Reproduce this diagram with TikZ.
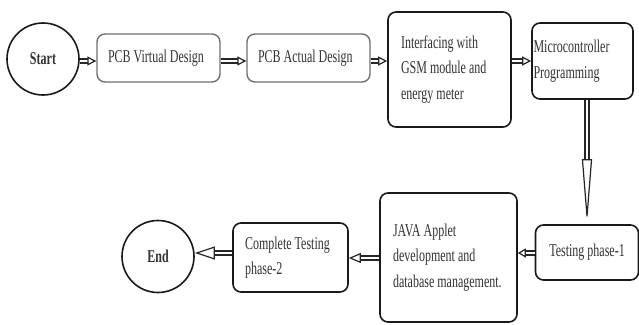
\documentclass[tikz,border=0pt]{standalone}
\usepackage{fontspec}
\setmainfont{Liberation Serif}[FakeStretch=0.667]
\usetikzlibrary{arrows.meta}
\definecolor{txt}{HTML}{333333}
\definecolor{gborder}{HTML}{707070}
\newcommand{\fs}{\fontsize{18}{25.5}\selectfont}
\newcommand{\tl}[1]{\mbox{#1}}
\tikzset{
  box/.style={draw=black!90, line width=1.6pt, rounded corners=8pt, fill=white,
    align=flush left, font=\fs, text=txt, inner ysep=0pt},
  graybox/.style={box, draw=gborder, line width=1.4pt},
  term/.style={circle, draw=black!90, line width=1.6pt, font=\fs\bfseries, text=txt,
    inner sep=0pt, minimum size=72pt},
  flow/.style 2 args={draw=black!85, line width=1.3pt, double=white, double distance=2.6pt,
    -{Triangle[open, length=#1, width=#2, line width=1.2pt]}}
}
\begin{document}
\begin{tikzpicture}[x=1pt,y=-1pt]
\useasboundingbox (0,0) rectangle (639,324);
\fill[white] (0,0) rectangle (639,324);
\coordinate (rowA) at (0,61);
\coordinate (rowB) at (0,253);
\coordinate (rowC) at (0,258);

\node[term] (start) at (43,59) {Start};
\node[graybox, minimum width=123pt, minimum height=48pt, text width=101pt, inner xsep=11pt] (pcbv) at (158.5,58) {\tl{PCB Virtual Design}};
\node[graybox, minimum width=123pt, minimum height=48pt, text width=101pt, inner xsep=11pt] (pcba) at (308.5,58) {\tl{PCB Actual Design}};
\node[box, minimum width=123pt, minimum height=115pt, text width=97pt, inner xsep=13pt] (intf) at (449.5,69.5) {\tl{Interfacing with}\\\tl{GSM module and}\\\tl{energy meter}};
\node[box, minimum width=101pt, minimum height=76pt, text width=98pt, inner xsep=1.5pt] (micro) at (582.5,61) {\tl{Microcontroller}\\\tl{Programming}};
\node[box, minimum width=103pt, minimum height=55pt, align=center, inner xsep=2pt] (test1) at (587,252.5) {\tl{Testing phase-1}};
\node[box, minimum width=137pt, minimum height=129pt, text width=111pt, inner xsep=13pt] (java) at (448.5,257.5) {\tl{JAVA Applet}\\\tl{development and}\\\tl{database management.}};
\node[box, minimum width=115pt, minimum height=69pt, text width=91pt, inner xsep=12pt] (comp) at (290.5,257.5) {\tl{Complete Testing}\\\tl{phase-2}};
\node[term] (end) at (158,256.5) {End};

\draw[flow={9pt}{9pt}] (start.east |- rowA) -- (pcbv.west |- rowA);
\draw[flow={9pt}{9pt}] (pcbv.east |- rowA) -- (pcba.west |- rowA);
\draw[flow={9pt}{9pt}] (pcba.east |- rowA) -- (intf.west |- rowA);
\draw[flow={9pt}{9pt}] (intf.east |- rowA) -- (micro.west |- rowA);
\draw[flow={65pt}{10pt}] (micro.south -| test1.north) -- (test1.north);
\draw[flow={8pt}{9pt}] (test1.west |- rowB) -- (java.east |- rowB);
\draw[flow={12pt}{10pt}] (java.west |- rowC) -- (comp.east |- rowC);
\draw[flow={20pt}{13pt}] (comp.west |- rowB) -- (end.east |- rowB);
\end{tikzpicture}
\end{document}
